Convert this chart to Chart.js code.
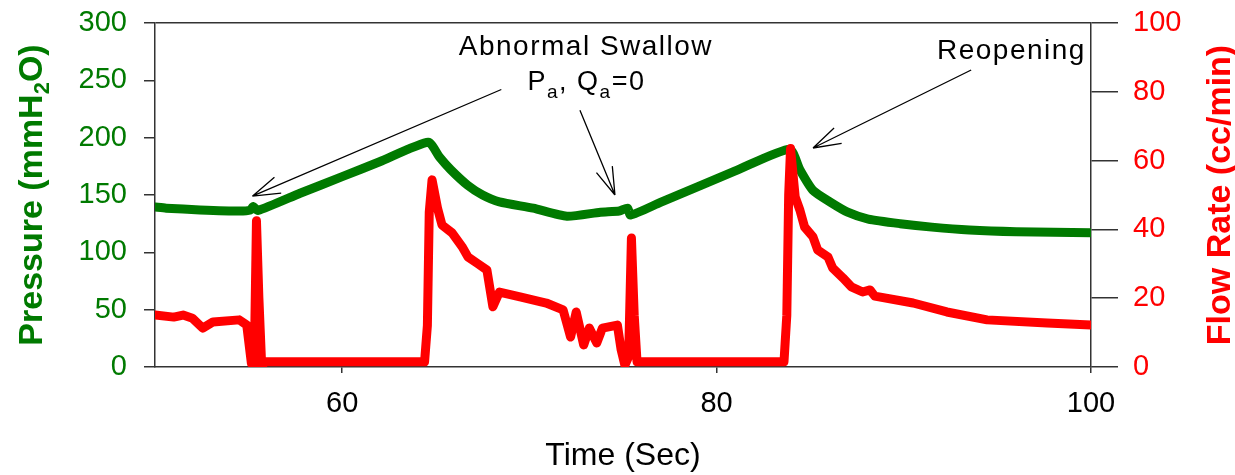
<!DOCTYPE html>
<html>
<head>
<meta charset="utf-8">
<script src="https://cdn.jsdelivr.net/npm/chart.js@4/dist/chart.umd.min.js"></script>
<style>
  html, body { margin: 0; padding: 0; background: #fff; }
</style>
</head>
<body>
<canvas id="myChart" width="1235" height="475"></canvas>
<script>
// pressure trace, left axis (mmH2O)
const pressureTime = [50, 50.6, 52.4, 54.5, 55.1, 55.25, 55.5, 57.75, 60, 62, 64.6, 65.2, 65.8, 66.7, 67.5, 68.4, 70.2, 72.0, 73.8, 74.8, 75.25, 75.4, 77, 79.1, 81, 83.9, 84.45, 85.15, 86.05, 87.0, 88.1, 89.8, 91.5, 93.5, 96, 100];
const pressureValues = [139.5, 138.5, 137, 136, 137, 140, 136.5, 151.5, 166, 179, 196, 183, 172, 158.5, 150, 144, 138.5, 131.5, 135, 136, 138.5, 132.5, 143.5, 158, 171, 190, 172, 154, 144, 135, 129, 125, 122, 119.5, 118, 117];

// flow trace, right axis (cc/min)
const flowTime = [50, 51, 51.5, 52.0, 52.55, 53.1, 54.5, 54.9, 55.15, 55.3, 55.42, 55.55, 55.7, 55.9, 60, 64.4, 64.55, 64.65, 64.8, 65.1, 65.33, 65.87, 66.4, 66.72, 67.2, 67.73, 68.05, 68.4, 69.5, 70.9, 71.8, 72.2, 72.5, 72.9, 73.2, 73.6, 73.9, 74.7, 74.9, 75.1, 75.3, 75.45, 75.6, 75.75, 80, 83.6, 83.75, 83.85, 83.95, 84.2, 84.45, 84.7, 85.15, 85.4, 85.95, 86.2, 86.75, 87.2, 87.8, 88.2, 88.45, 90.5, 92.3, 94.45, 97.65, 100];
const flowValues = [15.1, 14.5, 15.1, 14.2, 11.3, 13.1, 13.7, 12.2, 1, 0.5, 42.5, 20, 0.3, 1.5, 1.5, 1.5, 12, 45, 54.4, 46, 41.3, 39, 35, 32, 30.2, 28.2, 17.5, 21.8, 20.4, 18.6, 16.6, 8.7, 16, 6.4, 11.3, 7, 11.3, 12.2, 5, 0.5, 3, 37.5, 15, 1.5, 1.5, 1.5, 15, 50, 63.5, 49.4, 45.6, 40.7, 37.8, 34, 32, 28.8, 25.9, 23.3, 21.8, 22.4, 20.6, 18.6, 16, 13.7, 12.8, 12.2];

// tick labels
const timeTicks = [60, 80, 100];
const pressureTicks = [0, 50, 100, 150, 200, 250, 300];
const flowTicks = [0, 20, 40, 60, 80, 100];

const GREEN = '#007a00';
const RED = '#ff0000';
const AXIS = '#333';
const FONT = "'Liberation Sans', Arial, sans-serif";

// annotation arrows, in (time, pressure) units
const arrows = [
  { from: [68.5, 242], to: [55.2, 149] },
  { from: [72.7, 224], to: [74.57, 150] },
  { from: [93.6, 259], to: [85.15, 191] }
];

function drawRich(ctx, parts, cx, baseY, weight) {
  let total = 0;
  parts.forEach(p => {
    ctx.font = `${weight} ${p[1]}px ${FONT}`;
    total += ctx.measureText(p[0]).width;
  });
  let cur = cx - total / 2;
  ctx.textAlign = 'left';
  ctx.textBaseline = 'alphabetic';
  parts.forEach(p => {
    ctx.font = `${weight} ${p[1]}px ${FONT}`;
    ctx.fillText(p[0], cur, baseY + (p[2] || 0));
    cur += ctx.measureText(p[0]).width;
  });
}

const overlay = {
  id: 'overlay',
  afterDraw(chart) {
    const { ctx, chartArea } = chart;
    const x = chart.scales.x, y = chart.scales.y;
    const midY = (chartArea.top + chartArea.bottom) / 2;
    ctx.save();

    // arrows
    ctx.strokeStyle = '#000';
    ctx.lineWidth = 1.3;
    arrows.forEach(a => {
      const x0 = x.getPixelForValue(a.from[0]), y0 = y.getPixelForValue(a.from[1]);
      const x1 = x.getPixelForValue(a.to[0]), y1 = y.getPixelForValue(a.to[1]);
      const ang = Math.atan2(y0 - y1, x0 - x1);
      ctx.beginPath();
      ctx.moveTo(x0, y0);
      ctx.lineTo(x1, y1);
      [-0.3, 0.3].forEach(d => {
        ctx.moveTo(x1, y1);
        ctx.lineTo(x1 + 29 * Math.cos(ang + d), y1 + 29 * Math.sin(ang + d));
      });
      ctx.stroke();
    });

    // annotation text
    ctx.fillStyle = '#000';
    ctx.letterSpacing = '1.5px';
    drawRich(ctx, [['Abnormal Swallow', 28]], x.getPixelForValue(73.02), y.getPixelForValue(272), 'normal');
    drawRich(ctx, [['P', 27], ['a', 19, 8], [', ', 27], ['Q', 27], ['a', 19, 8], ['=0', 27]],
      x.getPixelForValue(73.05), y.getPixelForValue(241.5), 'normal');
    drawRich(ctx, [['Reopening', 28]], x.getPixelForValue(95.75), y.getPixelForValue(268.6), 'normal');
    ctx.letterSpacing = '0px';

    // axis titles, both read bottom to top
    ctx.fillStyle = GREEN;
    ctx.save();
    ctx.translate(chartArea.left - 113, midY);
    ctx.rotate(-Math.PI / 2);
    drawRich(ctx, [['Pressure (mmH', 34], ['2', 22, 7], ['O)', 34]], 0, 0, 'bold');
    ctx.restore();

    ctx.fillStyle = RED;
    ctx.save();
    ctx.translate(chartArea.right + 139, midY);
    ctx.rotate(-Math.PI / 2);
    drawRich(ctx, [['Flow Rate (cc/min)', 34]], 0, 0, 'bold');
    ctx.restore();

    ctx.restore();
  }
};

// fixed axis box sizes so the plot area sits where the original has it
function fixVertical(width) {
  return s => {
    s.width = width;
    s.paddingTop = 0;
    s.paddingBottom = 0;
  };
}

const ctx = document.getElementById('myChart').getContext('2d');
const chart = new Chart(ctx, {
  type: 'line',
  data: {
    datasets: [
      {
        label: 'Flow Rate',
        data: flowTime.map((t, i) => ({ x: t, y: flowValues[i] })),
        yAxisID: 'y1',
        borderColor: RED,
        borderWidth: 9,
        pointRadius: 0,
        borderJoinStyle: 'round',
        borderCapStyle: 'round',
        tension: 0
      },
      {
        label: 'Pressure',
        data: pressureTime.map((t, i) => ({ x: t, y: pressureValues[i] })),
        yAxisID: 'y',
        borderColor: GREEN,
        borderWidth: 9,
        pointRadius: 0,
        borderJoinStyle: 'round',
        borderCapStyle: 'round',
        tension: 0.2
      }
    ]
  },
  options: {
    responsive: false,
    animation: false,
    devicePixelRatio: 1,
    layout: { padding: { top: 23, left: 0, right: 0, bottom: 0 } },
    plugins: {
      legend: { display: false },
      tooltip: { enabled: false }
    },
    scales: {
      x: {
        type: 'linear',
        position: 'bottom',
        min: 50,
        max: 100,
        afterBuildTicks: s => { s.ticks = timeTicks.map(v => ({ value: v })); },
        afterFit: s => { s.height = 108; },
        border: { display: true, color: AXIS, width: 1.5 },
        grid: { drawOnChartArea: false, tickLength: 6, tickColor: AXIS, lineWidth: 1.5 },
        ticks: { color: '#000', padding: 14, font: { family: FONT, size: 29 }, maxRotation: 0 },
        title: {
          display: true,
          text: 'Time (Sec)',
          color: '#000',
          font: { family: FONT, size: 32 },
          padding: { top: 0, bottom: 0 }
        }
      },
      y: {
        type: 'linear',
        position: 'left',
        min: 0,
        max: 300,
        afterBuildTicks: s => { s.ticks = pressureTicks.map(v => ({ value: v })); },
        afterFit: fixVertical(155),
        border: { display: true, color: AXIS, width: 1.5 },
        grid: {
          drawOnChartArea: true,
          tickLength: 11,
          lineWidth: 1.5,
          tickColor: AXIS,
          color: c => (c.tick && c.tick.value === 300 ? AXIS : 'rgba(0,0,0,0)')
        },
        ticks: { color: GREEN, padding: 17, font: { family: FONT, size: 29 } }
      },
      y1: {
        type: 'linear',
        position: 'right',
        min: 0,
        max: 100,
        afterBuildTicks: s => { s.ticks = flowTicks.map(v => ({ value: v })); },
        afterFit: fixVertical(144),
        border: { display: true, color: AXIS, width: 1.5 },
        grid: { drawOnChartArea: false, tickLength: 27, lineWidth: 1.5, tickColor: AXIS },
        ticks: { color: RED, padding: 15, font: { family: FONT, size: 29 } }
      }
    }
  },
  plugins: [overlay]
});
</script>
</body>
</html>
